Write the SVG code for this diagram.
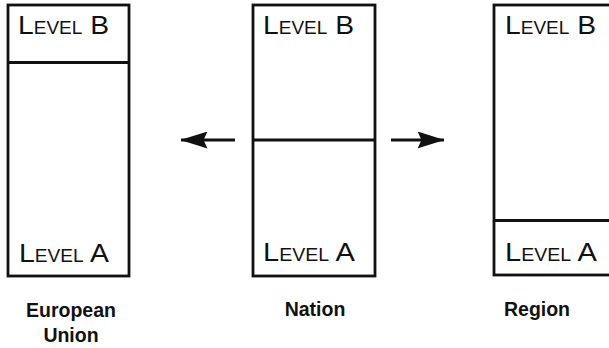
<svg xmlns="http://www.w3.org/2000/svg" width="609" height="348" viewBox="0 0 609 348">
<style>
.box{fill:#fff;stroke:#111;stroke-width:2.8}
.div{stroke:#111;stroke-width:2.8}
.lv{font-family:"Liberation Sans",Arial,sans-serif;fill:#111;font-size:26px}
.sc{font-size:17.5px}
.lab{font-family:"Liberation Sans",Arial,sans-serif;font-weight:bold;font-size:19.5px;fill:#111;text-anchor:middle}
.arr{stroke:#111;stroke-width:2.8;fill:none}
</style>
<defs>
<marker id="ah" viewBox="0 0 27 17" refX="26.5" refY="8.5" markerWidth="27" markerHeight="17" markerUnits="userSpaceOnUse" orient="auto">
<path d="M0,0 L27,8.5 L0,17 L4,8.5 Z" fill="#111"/>
</marker>
</defs>
<rect width="609" height="348" fill="#fff"/>
<g id="eu">
<rect class="box" x="8" y="5" width="121" height="271"/>
<line class="div" x1="8" y1="62.5" x2="129" y2="62.5"/>
<text class="lv" x="18" y="33.5" textLength="91" lengthAdjust="spacingAndGlyphs">L<tspan class="sc">EVEL</tspan> B</text>
<text class="lv" x="19" y="261.5" textLength="90" lengthAdjust="spacingAndGlyphs">L<tspan class="sc">EVEL</tspan> A</text>
<text class="lab" x="71" y="317">European</text>
<text class="lab" x="71" y="342">Union</text>
</g>
<g id="nation">
<rect class="box" x="253" y="5" width="122" height="271"/>
<line class="div" x1="253" y1="140" x2="375" y2="140"/>
<text class="lv" x="263" y="33.5" textLength="91" lengthAdjust="spacingAndGlyphs">L<tspan class="sc">EVEL</tspan> B</text>
<text class="lv" x="263" y="260.5" textLength="92" lengthAdjust="spacingAndGlyphs">L<tspan class="sc">EVEL</tspan> A</text>
<text class="lab" x="315" y="316">Nation</text>
</g>
<g id="region">
<rect class="box" x="494" y="5" width="125" height="270"/>
<line class="div" x1="494" y1="220.5" x2="619" y2="220.5"/>
<text class="lv" x="505" y="33.5" textLength="91" lengthAdjust="spacingAndGlyphs">L<tspan class="sc">EVEL</tspan> B</text>
<text class="lv" x="505" y="260.5" textLength="92" lengthAdjust="spacingAndGlyphs">L<tspan class="sc">EVEL</tspan> A</text>
<text class="lab" x="537" y="316">Region</text>
</g>
<g id="connectors">
<line class="arr" x1="235" y1="140" x2="181" y2="140" marker-end="url(#ah)"/>
<line class="arr" x1="391" y1="140" x2="444" y2="140" marker-end="url(#ah)"/>
</g>
</svg>
